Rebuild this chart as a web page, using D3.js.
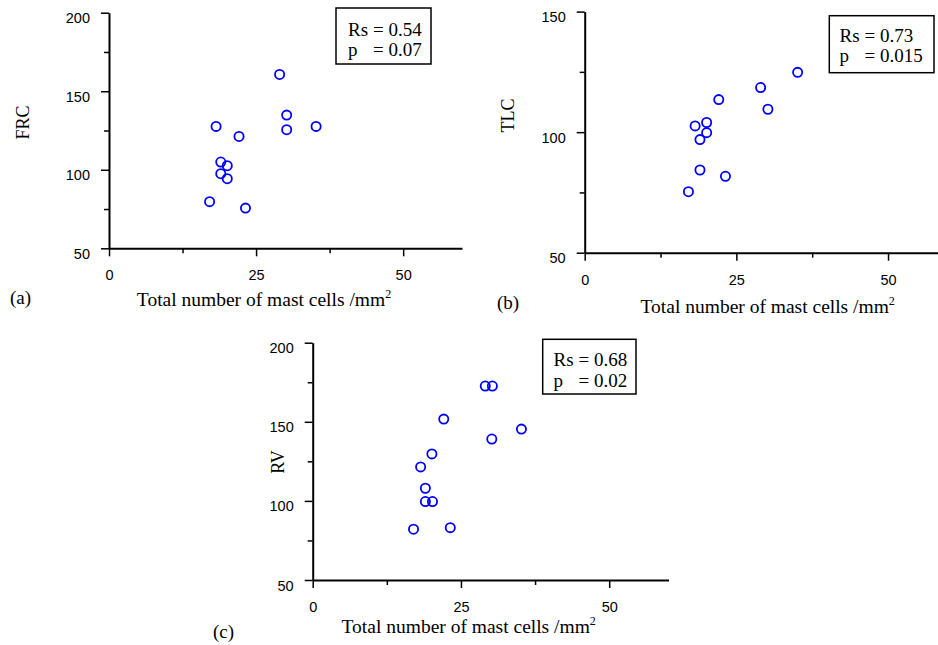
<!DOCTYPE html>
<html>
<head>
<meta charset="utf-8">
<script src="https://cdn.jsdelivr.net/npm/d3@7"></script>
<style>
  html, body { margin: 0; padding: 0; background: #fff; }
  svg { display: block; }
</style>
</head>
<body>
<svg id="chart" width="938" height="645"></svg>
<script>
// values (x = mast cells /mm2)
const frcX = [29.0, 30.2, 30.2, 35.2, 18.2, 22.1, 19.0, 20.1, 19.0, 20.1, 17.1, 23.2]
const frcY = [160.7, 134.8, 125.5, 127.6, 127.6, 121.2, 104.9, 102.6, 97.5, 94.3, 79.7, 75.6]

const tlcX = [35.1, 29.0, 30.2, 22.1, 20.1, 18.2, 20.1, 19.0, 19.0, 23.2, 17.1]
const tlcY = [124.8, 118.5, 109.5, 113.5, 104.0, 102.6, 99.8, 96.9, 84.3, 81.7, 75.3]

const rvX = [29.1, 30.3, 22.1, 35.2, 30.2, 20.1, 18.2, 19.0, 19.0, 20.2, 17.0, 23.2]
const rvY = [172.6, 172.6, 151.7, 145.4, 139.1, 129.7, 121.5, 108.0, 99.6, 99.6, 82.1, 83.1]

// ticks
const xTicks = [0, 12.5, 25, 37.5, 50]
const xTickLabels = [0, 25, 50]
const yTicks200 = [50, 75, 100, 125, 150, 175, 200]
const yTicks150 = [50, 75, 100, 125, 150]
const yTickLabels = [50, 100, 150, 200]

// statistics
const rsValues = ["0.54", "0.73", "0.68"]
const pValues = ["0.07", "0.015", "0.02"]
const yNames = ["FRC", "TLC", "RV"]
const panelTags = ["(a)", "(b)", "(c)"]

const SERIF = "'Liberation Serif', 'Times New Roman', serif"
const SANS = "'Liberation Sans', Arial, sans-serif"

// layout of each panel (pixels)
const panels = [
  {xs: frcX, ys: frcY, yMax: 200, yTicks: yTicks200, ox: 109, oy: 248.3, w: 353, h: 235.6,
   labelX: 28.5, labelY: 122.5, titleDx: 155, titleDy: 58, tag: [10, 304],
   box: [336, 8, 95, 56], boxText: [348, 36, 56]},
  {xs: tlcX, ys: tlcY, yMax: 150, yTicks: yTicks150, ox: 584.7, oy: 252.7, w: 364, h: 241.1,
   labelX: 513.5, labelY: 115.5, titleDx: 183, titleDy: 60, tag: [497, 309],
   box: [829.3, 15.7, 104.7, 57], boxText: [839.5, 42, 62]},
  {xs: rvX, ys: rvY, yMax: 200, yTicks: yTicks200, ox: 312.7, oy: 580, w: 355.8, h: 237.3,
   labelX: 284, labelY: 462, titleDx: 156, titleDy: 53, tag: [213, 638],
   box: [542.7, 339.3, 93.3, 54.7], boxText: [553.5, 366, 386.5]}
]

const svg = d3.select("#chart")

panels.forEach((p, i) => drawPanel(p, i))

function drawPanel(p, i) {
  const g = svg.append("g").attr("transform", "translate(" + p.ox + "," + (p.oy - p.h) + ")")

  const x = d3.scaleLinear().domain([0, 60]).range([0, p.w])
  const y = d3.scaleLinear().domain([50, p.yMax]).range([p.h, 0])

  // y axis
  const yAxis = g.append("g")
    .call(d3.axisLeft(y).tickValues(p.yTicks).tickSizeOuter(0)
      .tickFormat(d => yTickLabels.includes(d) ? d : ""))
  yAxis.select(".domain").attr("stroke-width", 2)
  yAxis.selectAll(".tick line")
    .attr("stroke-width", 1.5)
    .attr("x2", d => yTickLabels.includes(d) ? -8 : -5)
  yAxis.selectAll(".tick text")
    .attr("x", -19).attr("dy", null).attr("y", 10)
    .attr("font-family", SANS).attr("font-size", 14.5).attr("fill", "#000")

  // x axis
  const xAxis = g.append("g")
    .attr("transform", "translate(0," + p.h + ")")
    .call(d3.axisBottom(x).tickValues(xTicks).tickSizeOuter(0)
      .tickFormat(d => xTickLabels.includes(d) ? d : ""))
  xAxis.select(".domain").attr("stroke-width", 2)
  xAxis.selectAll(".tick line")
    .attr("stroke-width", 1.5)
    .attr("y2", d => xTickLabels.includes(d) ? 8 : 5)
  xAxis.selectAll(".tick text")
    .attr("y", 32).attr("dy", null)
    .attr("font-family", SANS).attr("font-size", 14.5).attr("fill", "#000")

  // points
  g.selectAll("circle")
    .data(p.xs.map((v, k) => [v, p.ys[k]]))
    .enter().append("circle")
    .attr("cx", d => x(d[0]))
    .attr("cy", d => y(d[1]))
    .attr("r", 4.6)
    .attr("fill", "none")
    .attr("stroke", "#0000ff")
    .attr("stroke-width", 1.8)

  // x title
  const title = svg.append("text")
    .attr("x", p.ox + p.titleDx)
    .attr("y", p.oy + p.titleDy)
    .attr("text-anchor", "middle")
    .attr("font-family", SERIF)
    .attr("font-size", 19.5)
    .text("Total number of mast cells /mm")
  title.append("tspan").attr("dy", -8).attr("font-size", 12).text("2")

  // y title
  svg.append("text")
    .attr("transform", "translate(" + p.labelX + "," + p.labelY + ") rotate(-90)")
    .attr("text-anchor", "middle")
    .attr("font-family", SERIF)
    .attr("font-size", 18)
    .text(yNames[i])

  // panel tag
  svg.append("text")
    .attr("x", p.tag[0]).attr("y", p.tag[1])
    .attr("font-family", SERIF)
    .attr("font-size", 19)
    .text(panelTags[i])

  // stats box
  svg.append("rect")
    .attr("x", p.box[0]).attr("y", p.box[1])
    .attr("width", p.box[2]).attr("height", p.box[3])
    .attr("fill", "#fff").attr("stroke", "#000").attr("stroke-width", 1.5)

  const lines = [["Rs", "= " + rsValues[i]], ["p", "= " + pValues[i]]]
  lines.forEach((ln, k) => {
    const t = svg.append("text")
      .attr("font-family", SERIF).attr("font-size", 19)
      .attr("y", p.boxText[1 + k])
    t.append("tspan").attr("x", p.boxText[0]).text(ln[0])
    t.append("tspan").attr("x", p.boxText[0] + 25).text(ln[1])
  })
}
</script>
</body>
</html>
